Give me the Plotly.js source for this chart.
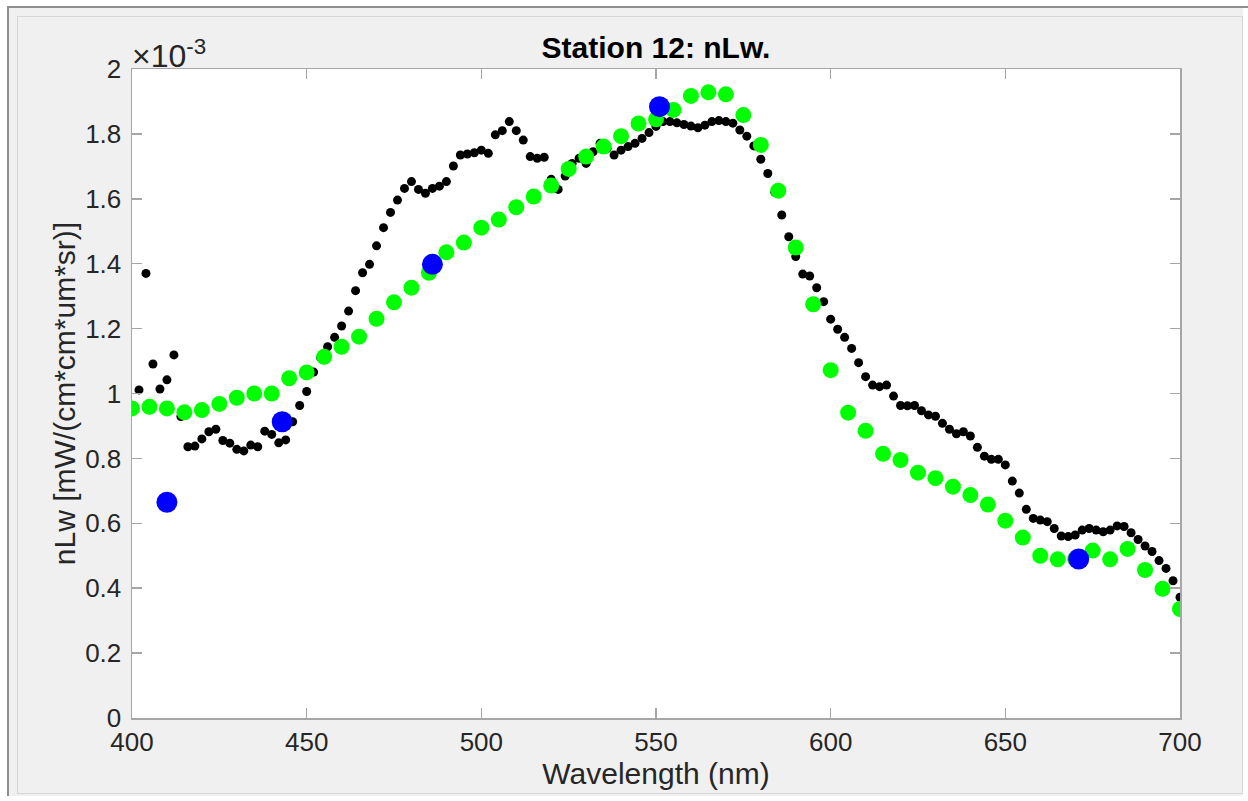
<!DOCTYPE html>
<html>
<head>
<meta charset="utf-8">
<script src="https://cdn.plot.ly/plotly-3.0.1.min.js"></script>
<style>
  html, body { margin:0; padding:0; background:#ffffff; }
  #topline { position:absolute; left:7px; top:6px; width:1241px; height:2px; background:#8e8e8e; }
  #frame { position:absolute; left:7px; top:6px; width:1236px; height:790px; background:#f0f0f0; border-left:2px solid #8e8e8e; border-top:2px solid #8e8e8e; box-sizing:border-box; }
  #inner { position:absolute; left:17px; top:16px; width:1226px; height:778px; border:1px solid #d7d7d7; box-sizing:border-box; }
  #plot { position:absolute; left:0; top:0; width:1248px; height:801px; }
</style>
</head>
<body>
<div id="frame"></div>
<div id="topline"></div>
<div id="inner"></div>
<div id="plot"></div>
<script>
// Values are in units of 1e-3 mW/(cm*cm*um*sr), as displayed with the "x10^-3" axis multiplier.
const blackWl = [402,404,406,408,410,412,414,416,418,420,422,424,426,428,430,432,434,436,438,440,
  442,444,446,448,450,452,454,456,458,460,462,464,466,468,470,472,474,476,478,480,
  482,484,486,488,490,492,494,496,498,500,502,504,506,508,510,512,514,516,518,520,
  522,524,526,528,530,532,534,536,538,540,542,544,546,548,550,552,554,556,558,560,
  562,564,566,568,570,572,574,576,578,580,582,584,586,588,590,592,594,596,598,600,
  602,604,606,608,610,612,614,616,618,620,622,624,626,628,630,632,634,636,638,640,
  642,644,646,648,650,652,654,656,658,660,662,664,666,668,670,672,674,676,678,680,
  682,684,686,688,690,692,694,696,698,700];
const blackNLw = [1.011,1.370,1.091,1.014,1.042,1.119,0.929,0.836,0.838,0.860,0.882,0.890,0.855,0.847,0.828,0.823,0.841,0.836,0.884,0.874,
  0.848,0.857,0.913,0.963,1.006,1.066,1.110,1.144,1.173,1.208,1.254,1.317,1.372,1.398,1.455,1.511,1.558,1.596,1.632,1.653,
  1.629,1.617,1.632,1.639,1.653,1.701,1.735,1.738,1.742,1.750,1.740,1.797,1.810,1.838,1.810,1.781,1.730,1.725,1.728,1.660,
  1.629,1.670,1.709,1.725,1.709,1.745,1.771,1.755,1.735,1.750,1.761,1.771,1.786,1.804,1.823,1.838,1.838,1.834,1.829,1.824,
  1.819,1.827,1.838,1.841,1.838,1.833,1.812,1.793,1.763,1.722,1.678,1.620,1.550,1.483,1.422,1.368,1.362,1.326,1.283,1.229,
  1.198,1.173,1.139,1.095,1.052,1.026,1.021,1.026,0.992,0.963,0.962,0.963,0.947,0.934,0.930,0.908,0.890,0.876,0.882,0.869,
  0.834,0.807,0.797,0.797,0.780,0.730,0.693,0.643,0.615,0.610,0.605,0.584,0.561,0.559,0.564,0.579,0.584,0.579,0.574,0.579,
  0.592,0.590,0.571,0.550,0.530,0.513,0.485,0.461,0.423,0.372];

const greenWl = [400,405,410,415,420,425,430,435,440,445,450,455,460,465,470,475,480,485,490,495,
  500,505,510,515,520,525,530,535,540,545,550,555,560,565,570,575,580,585,590,595,
  600,605,610,615,620,625,630,635,640,645,650,655,660,665,670,675,680,685,690,695,700];
const greenNLw = [0.954,0.959,0.954,0.942,0.949,0.968,0.987,1.000,1.000,1.047,1.065,1.113,1.144,1.175,1.230,1.281,1.326,1.372,1.435,1.465,
  1.511,1.536,1.574,1.607,1.641,1.692,1.730,1.761,1.793,1.832,1.845,1.874,1.917,1.928,1.922,1.858,1.766,1.625,1.450,1.275,
  1.072,0.941,0.885,0.814,0.795,0.756,0.739,0.713,0.687,0.658,0.608,0.556,0.500,0.489,0.490,0.516,0.489,0.521,0.456,0.398,0.336];

const blueWl = [410,443,486,551,671];
const blueNLw = [0.665,0.913,1.398,1.884,0.490];

const xTicks = [400,450,500,550,600,650,700];
const yTicks = [0,0.2,0.4,0.6,0.8,1,1.2,1.4,1.6,1.8,2];
const yTickText = ['0','0.2','0.4','0.6','0.8','1','1.2','1.4','1.6','1.8','2'];

const FONT = '"Liberation Sans", Arial, Helvetica, sans-serif';
const AX = '#a6a6a6';
const TXT = '#262626';

const traces = [
  {x: blackWl, y: blackNLw, type:'scatter', mode:'markers',
   marker:{color:'#000000', size:9}, hoverinfo:'x+y'},
  {x: greenWl, y: greenNLw, type:'scatter', mode:'markers',
   marker:{color:'#00ff00', size:16}, hoverinfo:'x+y'},
  {x: blueWl, y: blueNLw, type:'scatter', mode:'markers',
   marker:{color:'#0000ff', size:21}, hoverinfo:'x+y'}
];

const layout = {
  width:1248, height:801,
  margin:{l:132, r:68, t:69, b:83, pad:0},
  paper_bgcolor:'rgba(0,0,0,0)',
  plot_bgcolor:'#ffffff',
  showlegend:false,
  font:{family:FONT, color:TXT, size:26},
  title:{text:'<b>Station 12: nLw.</b>', font:{family:FONT, size:30, color:'#000000'},
         x:0.5, xref:'paper', xanchor:'center', y:1-47/801, yref:'container', yanchor:'middle'},
  xaxis:{range:[400,700], tickvals:xTicks, ticks:'inside', ticklen:10, tickwidth:1.5, tickcolor:AX,
         showline:true, linecolor:AX, linewidth:1.5, mirror:'ticks', showgrid:false, zeroline:false,
         tickfont:{family:FONT, size:26, color:TXT},
         title:{text:'Wavelength (nm)', font:{family:FONT, size:30, color:TXT}, standoff:0}},
  yaxis:{range:[0,2], tickvals:yTicks, ticktext:yTickText, ticks:'inside', ticklen:10, tickwidth:1.5, tickcolor:AX,
         showline:true, linecolor:AX, linewidth:1.5, mirror:'ticks', showgrid:false, zeroline:false,
         tickfont:{family:FONT, size:26, color:TXT}, ticklabelstandoff:4,
         title:{text:'nLw [mW/(cm*cm*um*sr)]', font:{family:FONT, size:30, color:TXT}, standoff:0}},
  annotations:[
    {text:'×10<sup>-3</sup>', xref:'paper', yref:'paper', x:0, y:1, xanchor:'left', yanchor:'bottom',
     xshift:-2, yshift:-7, showarrow:false, font:{family:FONT, size:32, color:TXT}}
  ]
};

Plotly.newPlot('plot', traces, layout, {displayModeBar:false, staticPlot:true});
</script>
</body>
</html>
